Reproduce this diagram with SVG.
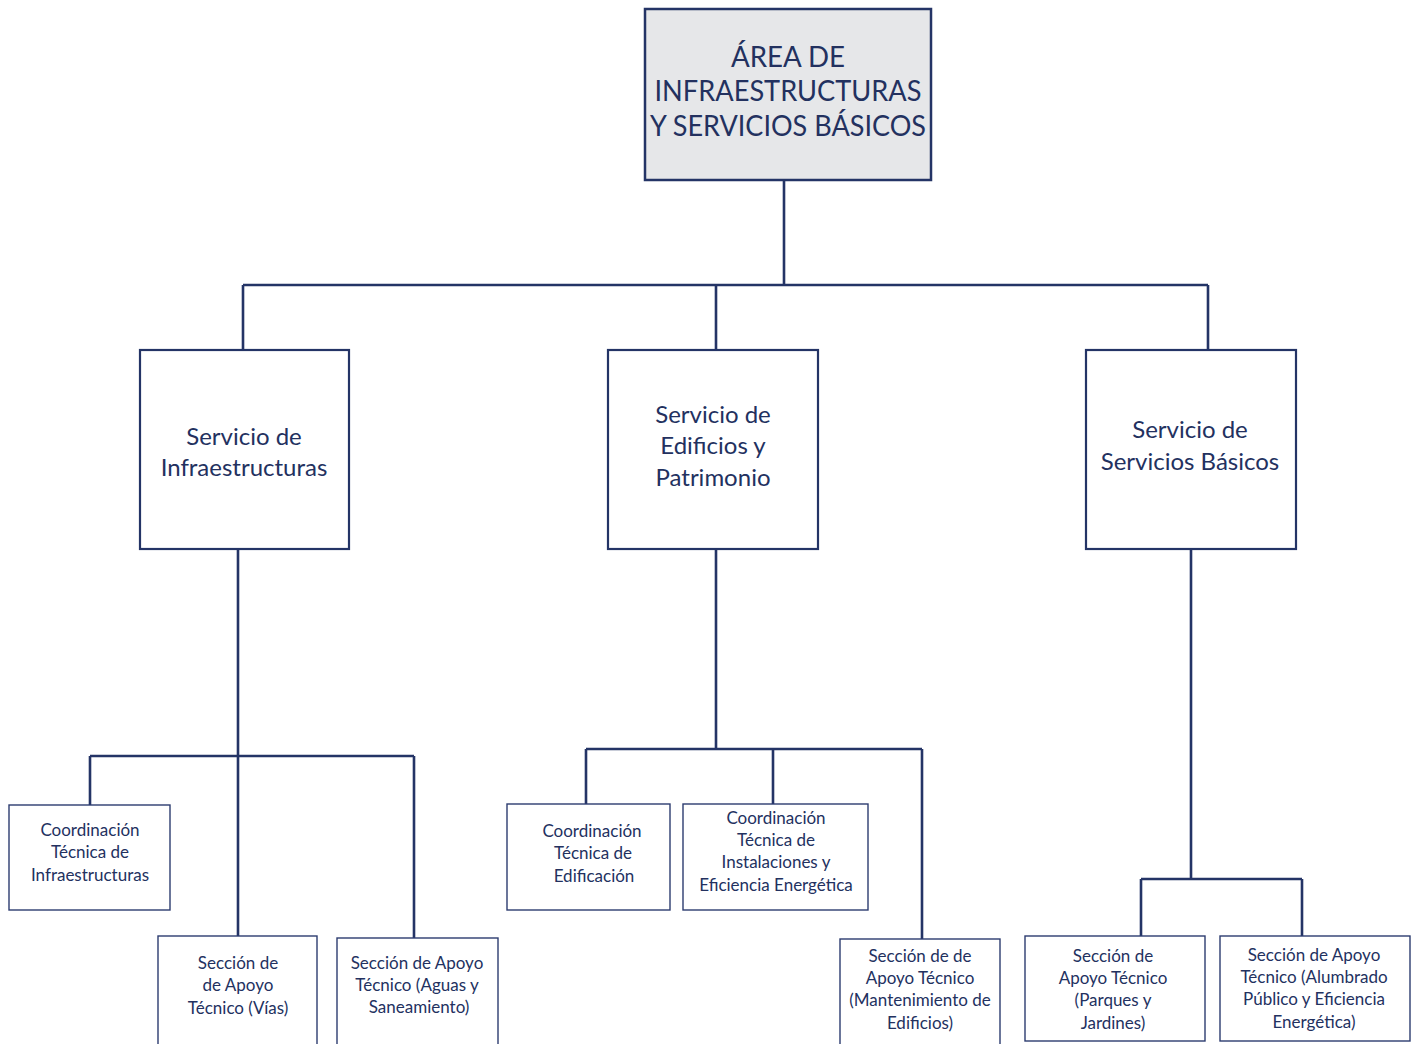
<svg xmlns="http://www.w3.org/2000/svg" width="1418" height="1044" viewBox="0 0 1418 1044">
<style>
.bg{fill:#ffffff}
.top{fill:#e6e7e9;stroke:#243466;stroke-width:2.5}
.mid{fill:#ffffff;stroke:#243466;stroke-width:2.2}
.sm{fill:#ffffff;stroke:#2d3c70;stroke-width:1.4}
.conn{fill:none;stroke:#243466;stroke-width:2.6}
text{font-family:Lato,"Open Sans","Liberation Sans",sans-serif;fill:#23315f;text-anchor:middle}
.t1{font-size:28px}
.t2{font-size:24px}
.t3{font-size:17px}
</style>
<rect class="bg" x="0" y="0" width="1418" height="1044"/>
<g id="connectors">
<path class="conn" d="M784 180V285M243 285H1208M243 285V350M716 285V350M1208 285V350"/>
<path class="conn" d="M238 549V936M90 756H414M90 756V805M414 756V938"/>
<path class="conn" d="M716 549V749M586 749H922M586 749V804M773 749V804M922 749V939"/>
<path class="conn" d="M1191 549V879M1141 879H1302M1141 879V936M1302 879V936"/>
</g>
<g id="n-area">
<rect class="top" x="645" y="9" width="286" height="171"/>
<text class="t1" x="788" y="67" textLength="114" lengthAdjust="spacingAndGlyphs">ÁREA DE</text>
<text class="t1" x="788" y="101" textLength="267" lengthAdjust="spacingAndGlyphs">INFRAESTRUCTURAS</text>
<text class="t1" x="788" y="136" textLength="276" lengthAdjust="spacingAndGlyphs">Y SERVICIOS BÁSICOS</text>
</g>
<g id="n-infra">
<rect class="mid" x="140" y="350" width="209" height="199"/>
<text class="t2" x="244" y="445">Servicio de</text>
<text class="t2" x="244" y="476">Infraestructuras</text>
</g>
<g id="n-edif">
<rect class="mid" x="608" y="350" width="210" height="199"/>
<text class="t2" x="713" y="423">Servicio de</text>
<text class="t2" x="713" y="454">Edificios y</text>
<text class="t2" x="713" y="486">Patrimonio</text>
</g>
<g id="n-serv">
<rect class="mid" x="1086" y="350" width="210" height="199"/>
<text class="t2" x="1190" y="438">Servicio de</text>
<text class="t2" x="1190" y="470">Servicios Básicos</text>
</g>
<g id="n-coord-infra">
<rect class="sm" x="9" y="805" width="161" height="105"/>
<text class="t3" x="90" y="836">Coordinación</text>
<text class="t3" x="90" y="858">Técnica de</text>
<text class="t3" x="90" y="881">Infraestructuras</text>
</g>
<g id="n-vias">
<rect class="sm" x="158" y="936" width="159" height="112"/>
<text class="t3" x="238" y="969">Sección de</text>
<text class="t3" x="238" y="991">de Apoyo</text>
<text class="t3" x="238" y="1014">Técnico (Vías)</text>
</g>
<g id="n-aguas">
<rect class="sm" x="337" y="938" width="161" height="110"/>
<text class="t3" x="417" y="969">Sección de Apoyo</text>
<text class="t3" x="417" y="991">Técnico (Aguas y</text>
<text class="t3" x="419" y="1013">Saneamiento)</text>
</g>
<g id="n-coord-edif">
<rect class="sm" x="507" y="804" width="163" height="106"/>
<text class="t3" x="592" y="837">Coordinación</text>
<text class="t3" x="593" y="859">Técnica de</text>
<text class="t3" x="594" y="882">Edificación</text>
</g>
<g id="n-coord-inst">
<rect class="sm" x="683" y="804" width="185" height="106"/>
<text class="t3" x="776" y="824">Coordinación</text>
<text class="t3" x="776" y="846">Técnica de</text>
<text class="t3" x="776" y="868">Instalaciones y</text>
<text class="t3" x="776" y="891">Eficiencia Energética</text>
</g>
<g id="n-mant">
<rect class="sm" x="840" y="939" width="160" height="109"/>
<text class="t3" x="920" y="962">Sección de de</text>
<text class="t3" x="920" y="984">Apoyo Técnico</text>
<text class="t3" x="920" y="1006">(Mantenimiento de</text>
<text class="t3" x="920" y="1029">Edificios)</text>
</g>
<g id="n-parques">
<rect class="sm" x="1025" y="936" width="180" height="105"/>
<text class="t3" x="1113" y="962">Sección de</text>
<text class="t3" x="1113" y="984">Apoyo Técnico</text>
<text class="t3" x="1113" y="1006">(Parques y</text>
<text class="t3" x="1113" y="1029">Jardines)</text>
</g>
<g id="n-alumbrado">
<rect class="sm" x="1220" y="936" width="190" height="105"/>
<text class="t3" x="1314" y="961">Sección de Apoyo</text>
<text class="t3" x="1314" y="983">Técnico (Alumbrado</text>
<text class="t3" x="1314" y="1005">Público y Eficiencia</text>
<text class="t3" x="1314" y="1028">Energética)</text>
</g>
</svg>
